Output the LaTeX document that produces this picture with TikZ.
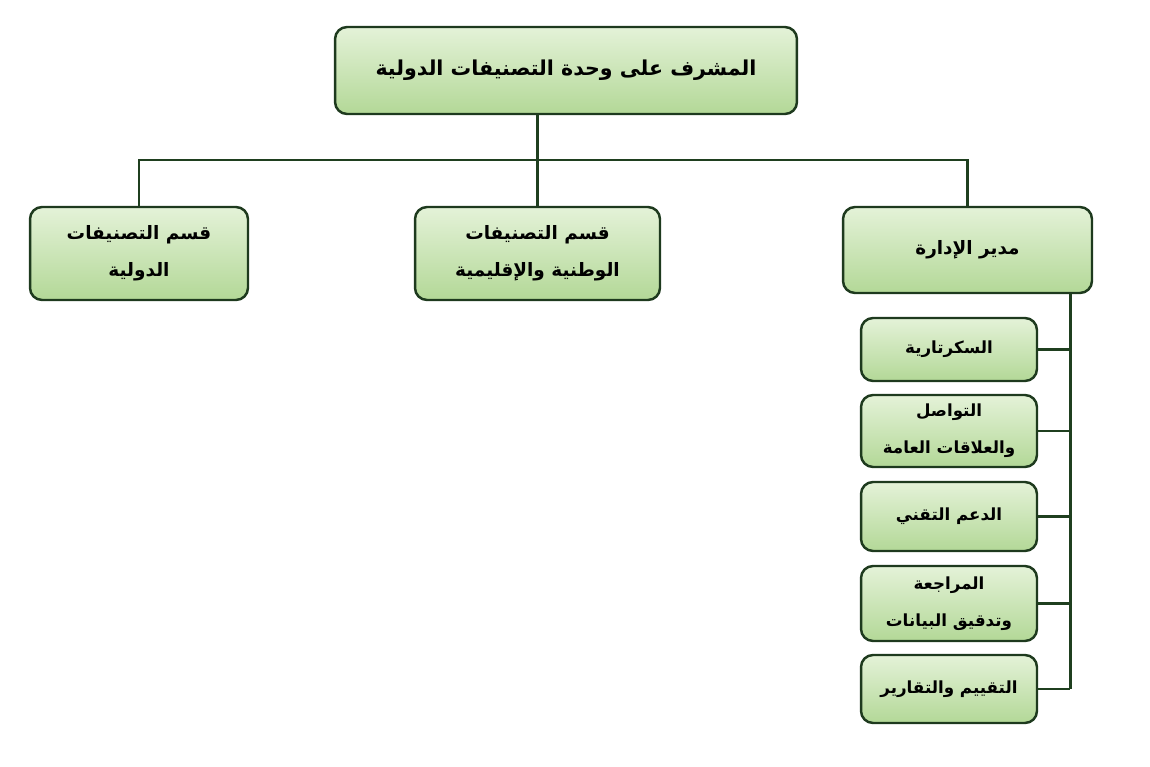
\documentclass[tikz,border=0pt]{standalone}
\usepackage{fontspec}
\usepackage{xcolor}
\usetikzlibrary{positioning}
\newfontfamily\arabicfont[Script=Arabic]{DejaVu Sans}
\TeXXeTstate=1
\definecolor{boxlight}{HTML}{E4F2D8}
\definecolor{boxdark}{HTML}{B3D897}
\definecolor{edge}{HTML}{1E3A1E}
\definecolor{wire}{HTML}{1F3F1F}

\tikzset{
    unit/.style={draw=edge, line width=1.4pt, rounded corners=0.24cm,
        top color=boxlight, bottom color=boxdark, align=center,
        font=\arabicfont\bfseries\fontsize{10.5}{21}\selectfont, inner sep=2pt},
    office/.style={unit, minimum width=3.52cm,
        font=\arabicfont\bfseries\fontsize{9.5}{21}\selectfont},
    link/.style={wire, line width=1.7pt}
}

\begin{document}
\begin{tikzpicture}[x=0.02cm, y=-0.02cm]
    \useasboundingbox (0,0) rectangle (1150,767);

    % head of the unit
    \node[unit, minimum width=9.24cm, minimum height=1.74cm,
        font=\arabicfont\bfseries\fontsize{11.7}{21}\selectfont] (head) at (566,70.5)
        {\beginR المشرف على وحدة التصنيفات الدولية\endR};

    % sections
    \node[unit, minimum width=4.36cm, minimum height=1.86cm] (intl) at (139,253.5)
        {\beginR قسم التصنيفات\endR\\\beginR الدولية\endR};
    \node[unit, minimum width=4.9cm, minimum height=1.86cm] (natl) at (537.5,253.5)
        {\beginR قسم التصنيفات\endR\\\beginR الوطنية والإقليمية\endR};
    \node[unit, minimum width=4.98cm, minimum height=1.72cm] (admin) at (967.5,250)
        {\beginR مدير الإدارة\endR};

    % offices under the manager
    \node[office, minimum height=1.26cm] (secr) at (949,349.5)
        {\beginR السكرتارية\endR};
    \node[office, minimum height=1.44cm] (comm) at (949,431)
        {\beginR التواصل\endR\\\beginR والعلاقات العامة\endR};
    \node[office, minimum height=1.38cm] (tech) at (949,516.5)
        {\beginR الدعم التقني\endR};
    \node[office, minimum height=1.5cm] (audit) at (949,603.5)
        {\beginR المراجعة\endR\\\beginR وتدقيق البيانات\endR};
    \node[office, minimum height=1.36cm] (eval) at (949,689)
        {\beginR التقييم والتقارير\endR};

    % tree lines
    \coordinate (fork) at (537.5,160);
    \draw[link] (head.south -| fork) -- (fork);
    \draw[link] (intl.north) |- (fork) -| (admin.north);
    \draw[link] (fork) -- (natl.north);

    \coordinate (spine) at (1070,0);
    \draw[link] (admin.south -| spine) -- (eval.east -| spine);
    \foreach \n in {secr,comm,tech,audit,eval}
        \draw[link] (\n.east) -- (\n.east -| spine);
\end{tikzpicture}
\end{document}
